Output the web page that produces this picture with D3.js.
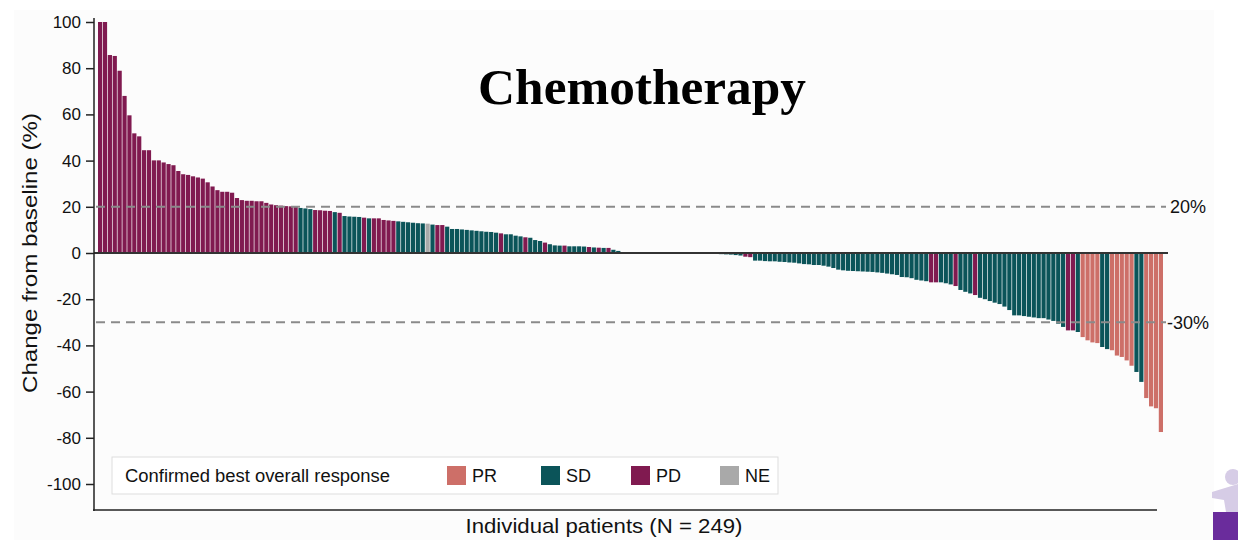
<!DOCTYPE html>
<html>
<head>
<meta charset="utf-8">
<script src="https://cdn.jsdelivr.net/npm/d3@7"></script>
<style>
  body { margin: 0; background: #fff; }
  svg { display: block; font-family: "Liberation Sans", Arial, sans-serif; }
</style>
</head>
<body>
<div class="waterfall"></div>
<script>
// best % change from baseline, one entry per patient (sorted)
const changes = [
  100, 100, 85.7, 85.3, 78.9, 68, 59.6, 51.8, 50.5, 44.5,
  44.5, 40.1, 40.1, 39.2, 38.5, 38, 35.5, 34.1, 33.8, 33.2,
  32.7, 32.2, 30.6, 28.8, 27.2, 26.5, 26.5, 26.1, 23.8, 22.9,
  22.6, 22.6, 22.4, 22.4, 21.7, 21, 20.7, 20.5, 20.3, 20.2,
  20.1,
  19.5, 19.3, 19.0, 18.6, 18.5, 18.3, 18.2, 17.7, 17.4,
  16.0, 15.8, 15.7, 15.6, 15.3, 15.0, 15.0, 15.0, 14.3, 14.1,
  13.9, 13.7, 13.5, 13.3, 13.1, 12.9, 12.8, 12.7, 12.3, 12.1,
  12.1, 11.4, 10.4, 10.4, 10.2, 10.0, 9.8, 9.6, 9.4, 9.2,
  9.1, 8.8, 8.5, 8.1, 8.1, 7.5, 7.2, 6.8, 6.6, 5.6,
  5.2, 4.5, 3.8, 3.3, 3.2, 3.2, 2.9, 2.9, 2.9, 2.8,
  2.6, 2.4, 2.3, 2.2, 2.2, 1.4, 0.9, 0.4, 0.2, 0,
  0, 0, 0, 0, 0, 0, 0, 0, 0, 0,
  0, 0, 0, 0, -0.2, -0.3, -0.4, -0.5, -0.6, -0.7,
  -0.9, -1.1, -1.6, -1.8, -3.3, -3.3, -3.5, -3.6, -3.6, -3.8,
  -3.9, -4.1, -4.2, -4.5, -4.8, -4.9, -5.2, -5.2, -5.5, -5.9,
  -6.5, -7.2, -7.5, -7.7, -7.8, -7.9, -8.0, -8.1, -8.2, -8.4,
  -8.6, -8.9, -9.2, -9.5, -10.4, -10.5, -10.9, -11.6, -11.9, -12.2,
  -12.7, -12.7, -12.7, -13.1, -13.6, -14.3, -16.0, -16.8, -17.5, -18.2,
  -19.4, -20.0, -20.8, -21.5, -22.1, -23.2, -24.7, -27.0, -27.0, -27.3,
  -27.6, -27.9, -28.2, -28.2, -28.8, -29.4, -30.6, -32.0, -33.5, -33.5,
  -34.2, -36.4, -37.8, -38.7, -39.0, -40.7, -41.6, -42.1, -44.4, -45.0,
  -46.5, -48.8, -51.5, -55.8, -62.8, -66.4, -67.2, -77.5
];

const responses = [
  "PD","PD","PD","PD","PD","PD","PD","PD","PD","PD",
  "PD","PD","PD","PD","PD","PD","PD","PD","PD","PD",
  "PD","PD","PD","PD","PD","PD","PD","PD","PD","PD",
  "PD","PD","PD","PD","PD","PD","PD","PD","PD","PD",
  "PD",
  "SD","SD","SD","PD","PD","PD","PD","SD","PD",
  "SD","SD","SD","SD","PD","SD","PD","PD","PD","PD",
  "PD","SD","SD","SD","SD","SD","SD","NE","SD","PD",
  "PD","SD","SD","SD","SD","SD","SD","SD","SD","SD",
  "SD","SD","PD","SD","SD","SD","SD","PD","SD","SD",
  "SD","PD","SD","SD","SD","PD","SD","SD","SD","SD",
  "PD","SD","PD","SD","PD","SD","SD","SD","SD","SD",
  "SD","SD","SD","SD","SD","SD","SD","SD","SD","SD",
  "SD","SD","SD","SD","SD","PD","SD","SD","SD","SD",
  "SD","SD","PD","PD","SD","SD","SD","SD","SD","SD",
  "SD","SD","SD","SD","SD","SD","SD","SD","SD","SD",
  "SD","SD","SD","SD","SD","SD","SD","SD","SD","SD",
  "SD","SD","SD","SD","SD","SD","SD","SD","SD","SD",
  "PD","PD","SD","SD","SD","PD","SD","SD","SD","PD",
  "SD","SD","SD","SD","SD","SD","SD","SD","SD","SD",
  "SD","SD","SD","SD","SD","SD","SD","SD","PD","PD",
  "SD","PR","PR","PR","PR","SD","SD","PR","PR","PR",
  "PR","PR","SD","SD","PR","PR","PR","PR"
];

const legendKeys = ["PR", "SD", "PD", "NE"];
const legendColors = ["#cd6f68", "#0b5459", "#801a50", "#a9a9a9"];
const yTicks = [-100, -80, -60, -40, -20, 0, 20, 40, 60, 80, 100];
const refLines = [20, -30];

const width = 1238;
const height = 540;

const svg = d3.select('.waterfall')
    .append('svg')
    .attr('width', width)
    .attr('height', height);

// slide panel
svg.append('rect')
    .attr('x', 14).attr('y', 10)
    .attr('width', 1200).attr('height', 530)
    .attr('fill', '#fcfcfc');

const color = d3.scaleOrdinal().domain(legendKeys).range(legendColors);

const x = d3.scaleBand()
    .domain(d3.range(changes.length))
    .range([98, 1163])
    .paddingInner(0.14);

const y = d3.scaleLinear()
    .domain([-100, 100])
    .range([484, 22]);

// bars
svg.selectAll('rect.bar')
    .data(changes)
    .enter()
    .append('rect')
    .attr('class', 'bar')
    .attr('x', (d, i) => x(i))
    .attr('width', x.bandwidth())
    .attr('y', d => d >= 0 ? y(d) : y(0))
    .attr('height', d => Math.abs(y(d) - y(0)))
    .attr('fill', (d, i) => color(responses[i]));

// dashed reference lines
svg.selectAll('line.ref')
    .data(refLines)
    .enter()
    .append('line')
    .attr('x1', 96).attr('x2', 1166)
    .attr('y1', d => y(d)).attr('y2', d => y(d))
    .attr('stroke', '#8a8a8a')
    .attr('stroke-width', 2)
    .attr('stroke-dasharray', '9,6');

svg.selectAll('text.ref')
    .data(refLines)
    .enter()
    .append('text')
    .attr('x', d => d > 0 ? 1170 : 1167)
    .attr('y', d => y(d))
    .attr('dy', '0.35em')
    .attr('font-size', 18)
    .attr('fill', '#111')
    .text(d => d + '%');

// zero line
svg.append('line')
    .attr('x1', 94).attr('x2', 1168)
    .attr('y1', y(0)).attr('y2', y(0))
    .attr('stroke', '#333').attr('stroke-width', 2);

// y axis
const yAxis = svg.append('g')
    .attr('transform', 'translate(94,0)')
    .call(d3.axisLeft(y).tickValues(yTicks).tickFormat(d => d).tickSize(8).tickPadding(5));
yAxis.select('.domain').remove();
yAxis.selectAll('.tick line').attr('stroke', '#222').attr('stroke-width', 1.5);
yAxis.selectAll('.tick text')
    .attr('font-size', 17)
    .attr('font-family', '"Liberation Sans", Arial, sans-serif')
    .attr('fill', '#111');

// frame: left and bottom
svg.append('line')
    .attr('x1', 94).attr('x2', 94).attr('y1', 18).attr('y2', 511)
    .attr('stroke', '#222').attr('stroke-width', 1.5);
svg.append('line')
    .attr('x1', 93).attr('x2', 1157).attr('y1', 510).attr('y2', 510)
    .attr('stroke', '#222').attr('stroke-width', 1.5);

// axis titles
svg.append('text')
    .attr('transform', 'translate(37,253) rotate(-90)')
    .attr('text-anchor', 'middle')
    .attr('font-size', 21)
    .attr('textLength', 280)
    .attr('lengthAdjust', 'spacingAndGlyphs')
    .attr('fill', '#111')
    .text('Change from baseline (%)');

svg.append('text')
    .attr('x', 604).attr('y', 533)
    .attr('text-anchor', 'middle')
    .attr('font-size', 21)
    .attr('textLength', 277)
    .attr('lengthAdjust', 'spacingAndGlyphs')
    .attr('fill', '#111')
    .text('Individual patients (N = 249)');

// title
svg.append('text')
    .attr('x', 642).attr('y', 104)
    .attr('text-anchor', 'middle')
    .attr('font-family', '"Liberation Serif", "Times New Roman", serif')
    .attr('font-weight', 'bold')
    .attr('font-size', 50)
    .attr('textLength', 328)
    .attr('lengthAdjust', 'spacingAndGlyphs')
    .attr('fill', '#000')
    .text('Chemotherapy');

// legend
const legend = svg.append('g');
legend.append('rect')
    .attr('x', 112).attr('y', 457)
    .attr('width', 666).attr('height', 37)
    .attr('fill', '#fff')
    .attr('stroke', '#ddd');
legend.append('text')
    .attr('x', 125).attr('y', 476)
    .attr('dy', '0.35em')
    .attr('font-size', 18)
    .attr('textLength', 265)
    .attr('lengthAdjust', 'spacingAndGlyphs')
    .attr('fill', '#111')
    .text('Confirmed best overall response');

const legendX = [447, 541, 631, 720];
const items = legend.selectAll('g.item')
    .data(legendKeys)
    .enter()
    .append('g')
    .attr('transform', (d, i) => `translate(${legendX[i]},466)`);
items.append('rect')
    .attr('width', 19).attr('height', 19)
    .attr('fill', d => color(d));
items.append('text')
    .attr('x', 25).attr('y', 10)
    .attr('dy', '0.35em')
    .attr('font-size', 18)
    .attr('fill', '#111')
    .text(d => d);

// logo fragment, bottom right corner
svg.append('circle')
    .attr('cx', 1233).attr('cy', 477).attr('r', 8)
    .attr('fill', '#d6cce6');
svg.append('path')
    .attr('d', 'M1212,492 L1238,484 L1238,512 L1226,512 L1224,500 L1212,498 Z')
    .attr('fill', '#d6cce6');
svg.append('rect')
    .attr('x', 1213).attr('y', 512)
    .attr('width', 25).attr('height', 28)
    .attr('fill', '#6a2c9c');
</script>
</body>
</html>
